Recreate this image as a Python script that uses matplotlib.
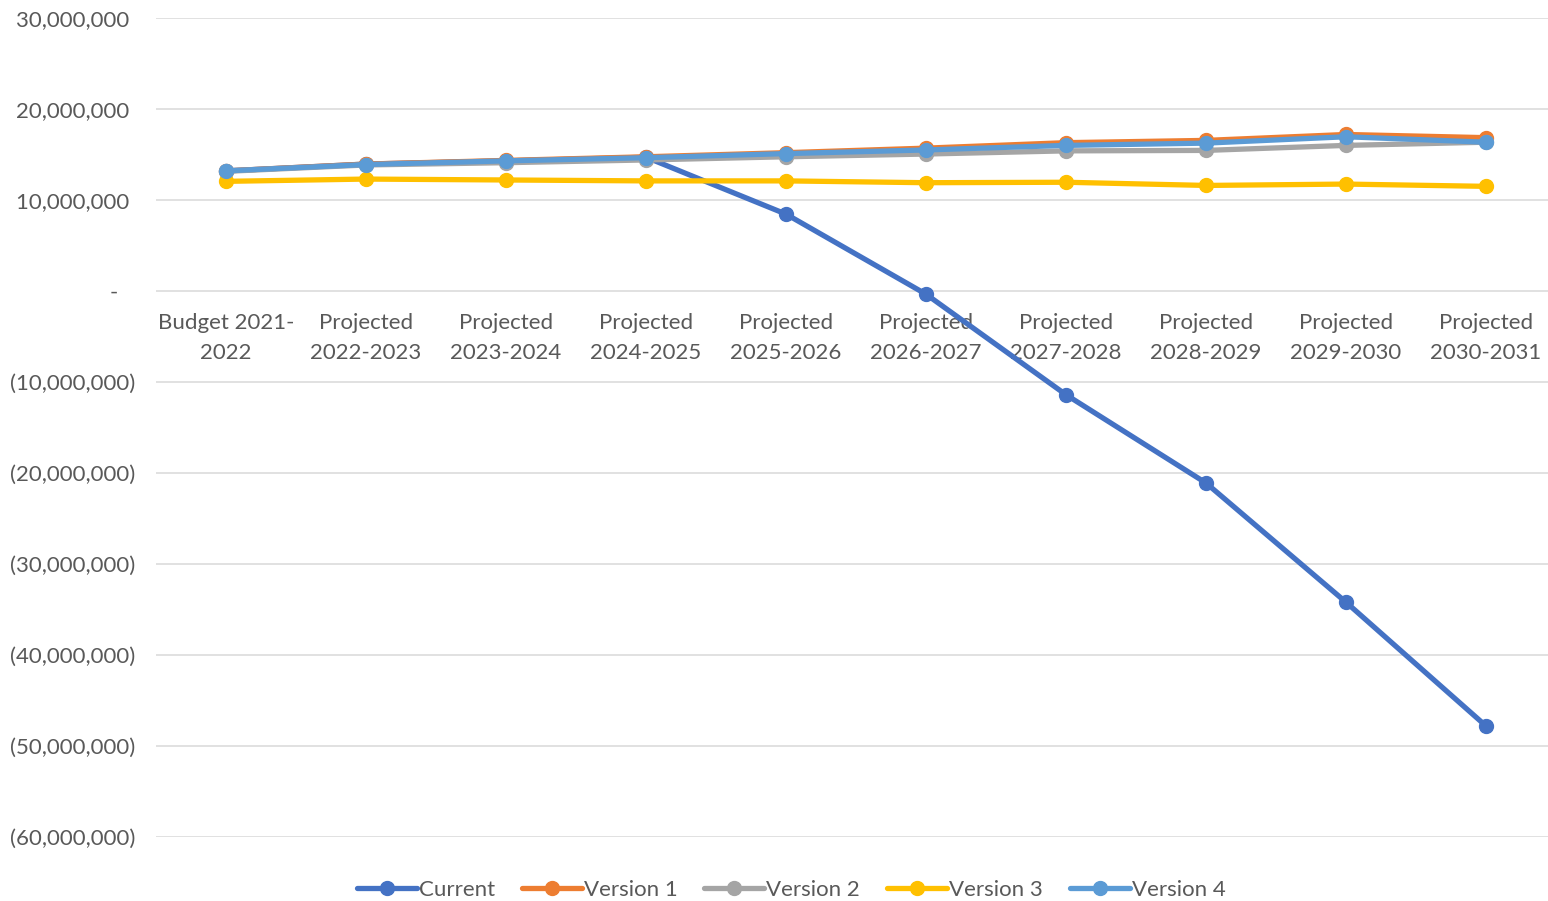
import matplotlib

matplotlib.use("Agg")
import matplotlib.pyplot as plt
from matplotlib.ticker import FuncFormatter, MultipleLocator

# Categories and series values (in dollars).
categories = ["Budget 2021-\n2022"] + [f"Projected\n{y}-{y + 1}" for y in range(2022, 2031)]
current = [13.2e6, 13.95e6, 14.3e6, 14.7e6, 8.45e6, -0.35e6, -11.4e6, -21.1e6, -34.2e6, -47.8e6]
version_1 = [13.2e6, 13.95e6, 14.35e6, 14.75e6, 15.2e6, 15.7e6, 16.3e6, 16.55e6, 17.2e6, 16.85e6]
version_2 = [13.15e6, 13.85e6, 14.1e6, 14.4e6, 14.75e6, 15.05e6, 15.4e6, 15.45e6, 16.0e6, 16.35e6]
version_3 = [12.05e6, 12.3e6, 12.2e6, 12.1e6, 12.1e6, 11.9e6, 11.95e6, 11.6e6, 11.75e6, 11.5e6]
version_4 = [13.2e6, 13.9e6, 14.3e6, 14.65e6, 15.1e6, 15.5e6, 16.0e6, 16.25e6, 16.95e6, 16.35e6]

series = [
    ("Current", current, "#4472C4"),
    ("Version 1", version_1, "#ED7D31"),
    ("Version 2", version_2, "#A5A5A5"),
    ("Version 3", version_3, "#FFC000"),
    ("Version 4", version_4, "#5B9BD5"),
]

TEXT = "#595959"
plt.rcParams["font.family"] = ["Lato", "DejaVu Sans"]


def accounting(v, _pos):
    if abs(v) < 1:
        return "-   "
    if v < 0:
        return f"({abs(v):,.0f})"
    return f"{v:,.0f} "


fig = plt.figure(figsize=(15.48, 9.01), dpi=100)
ax = fig.add_axes([156 / 1548, 1 - 837 / 901, 1400 / 1548, (837 - 18) / 901])

x = list(range(len(categories)))
for name, vals, color in series:
    ax.plot(x, vals, color=color, lw=3.8, marker="o", ms=10, label=name,
            solid_capstyle="round", clip_on=False)

ax.set_xlim(-0.5, len(categories) - 0.5)
ax.set_ylim(-60e6, 30e6)
ax.yaxis.set_major_locator(MultipleLocator(10e6))
ax.yaxis.set_major_formatter(FuncFormatter(accounting))
ax.grid(axis="y", color="#D9D9D9", lw=1.1)
ax.set_axisbelow(True)

ax.set_xticks(x, labels=categories)
ax.spines["bottom"].set_position(("data", 0))
for s in ax.spines.values():
    s.set_visible(False)
ax.tick_params(axis="x", length=0, pad=16, labelsize=16, labelcolor=TEXT)
ax.tick_params(axis="y", length=0, pad=15, labelsize=16, labelcolor=TEXT)
for tick in ax.xaxis.get_major_ticks():
    tick.label1.set_linespacing(1.6)

fig.legend(loc="lower center", bbox_to_anchor=(0.511, -0.021), ncol=5, frameon=False,
           fontsize=16, labelcolor=TEXT, handlelength=2.7, handletextpad=0.1,
           columnspacing=1.2)

fig.savefig("out.png", dpi=100)
